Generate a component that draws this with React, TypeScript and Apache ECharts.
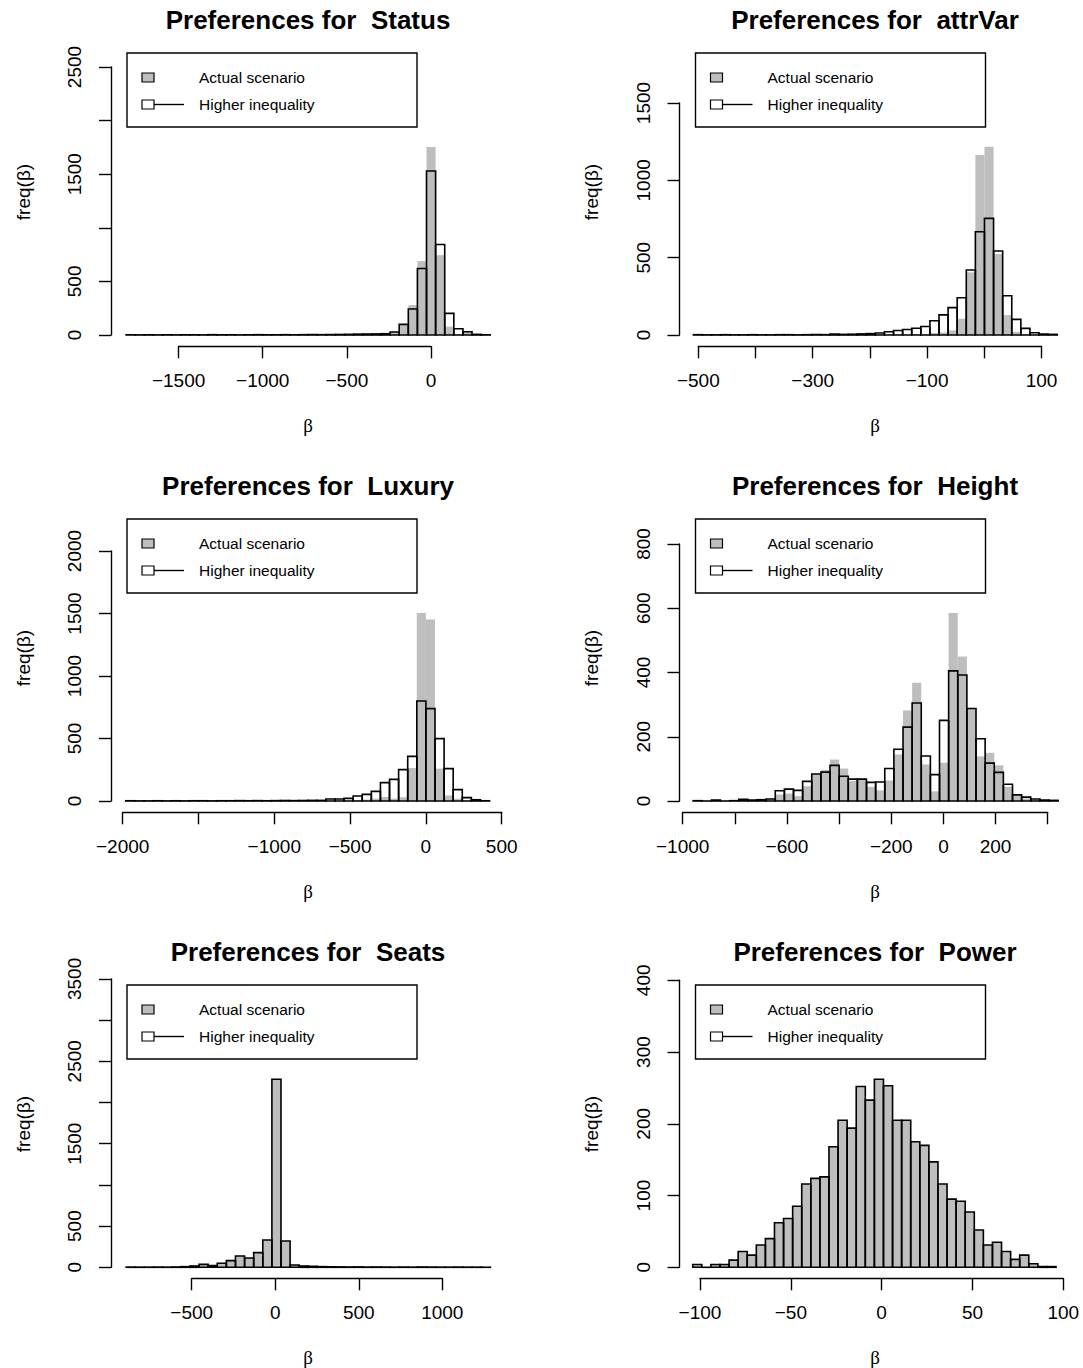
import React, { useEffect, useRef } from "react";
import * as echarts from "echarts";

// ---------- DATA (bin start, bin width, counts per bin) ----------
const statusBinStart = -1812;
const statusBinWidth = 54.1;
const statusActual = [2, 1, 1, 2, 1, 1, 2, 1, 2, 2, 1, 2, 1, 2, 2, 3, 2, 2, 3, 2, 3, 3, 4, 4, 5, 6, 7, 8, 10, 30, 100, 279, 689, 1753, 745, 78, 8, 28, 5, 1];
const statusHigher = [3, 1, 2, 1, 2, 1, 2, 2, 1, 3, 2, 2, 1, 2, 3, 2, 2, 3, 2, 3, 4, 3, 4, 5, 6, 8, 9, 10, 12, 28, 99, 242, 621, 1530, 844, 202, 59, 31, 6, 2];
const statusXTicks = [-1500, -1000, -500, 0];
const statusXLabels = [-1500, -1000, -500, 0];
const statusYTicks = [0, 500, 1000, 1500, 2000, 2500];
const statusYLabels = [0, 500, 1500, 2500];

const attrVarBinStart = -508.5;
const attrVarBinWidth = 15.9;
const attrVarActual = [1, 0, 1, 1, 0, 1, 1, 0, 1, 1, 1, 0, 1, 1, 1, 2, 1, 2, 2, 3, 4, 4, 5, 4, 5, 6, 13, 17, 30, 105, 405, 1163, 1217, 524, 129, 20, 5, 2, 1, 0];
const attrVarHigher = [2, 1, 1, 2, 1, 1, 2, 1, 1, 2, 2, 1, 2, 3, 2, 6, 4, 5, 7, 9, 13, 21, 29, 36, 44, 55, 92, 130, 177, 241, 420, 668, 754, 543, 254, 101, 43, 15, 6, 4];
const attrVarXTicks = [-500, -400, -300, -200, -100, 0, 100];
const attrVarXLabels = [-500, -300, -100, 100];
const attrVarYTicks = [0, 500, 1000, 1500];
const attrVarYLabels = [0, 500, 1000, 1500];

const luxuryBinStart = -1980;
const luxuryBinWidth = 60;
const luxuryActual = [1, 1, 0, 1, 1, 1, 0, 1, 1, 1, 1, 2, 1, 1, 2, 1, 2, 2, 2, 3, 3, 3, 3, 4, 5, 8, 12, 19, 32, 19, 30, 264, 1504, 1453, 259, 45, 19, 8, 4, 1];
const luxuryHigher = [2, 1, 1, 2, 1, 2, 1, 2, 2, 1, 2, 2, 3, 2, 3, 2, 3, 4, 3, 4, 5, 5, 16, 16, 21, 40, 53, 77, 147, 173, 251, 357, 800, 739, 499, 259, 91, 27, 10, 2];
const luxuryXTicks = [-2000, -1500, -1000, -500, 0, 500];
const luxuryXLabels = [-2000, -1000, -500, 0, 500];
const luxuryYTicks = [0, 500, 1000, 1500, 2000];
const luxuryYLabels = [0, 500, 1000, 1500, 2000];

const heightBinStart = -960;
const heightBinWidth = 35;
const heightActual = [0, 0, 2, 0, 1, 4, 2, 3, 5, 20, 23, 15, 46, 84, 97, 129, 101, 62, 68, 44, 33, 64, 145, 282, 368, 114, 30, 119, 585, 450, 288, 139, 150, 111, 44, 17, 8, 4, 2, 1];
const heightHigher = [1, 0, 3, 0, 1, 5, 3, 4, 6, 32, 37, 33, 61, 84, 90, 111, 77, 68, 68, 58, 59, 101, 161, 230, 305, 140, 82, 251, 405, 392, 288, 194, 118, 89, 52, 19, 12, 6, 3, 2];
const heightXTicks = [-1000, -800, -600, -400, -200, 0, 200, 400];
const heightXLabels = [-1000, -600, -200, 0, 200];
const heightYTicks = [0, 200, 400, 600, 800];
const heightYLabels = [0, 200, 400, 600, 800];

const seatsBinStart = -892;
const seatsBinWidth = 54.5;
const seatsCounts = [3, 2, 2, 3, 2, 4, 8, 16, 36, 20, 49, 81, 138, 113, 178, 332, 2283, 320, 28, 16, 12, 8, 6, 5, 4, 5, 3, 4, 3, 2, 3, 2, 4, 3, 2, 2, 3, 2, 2, 1];
const seatsActual = seatsCounts;
const seatsHigher = seatsCounts;
const seatsXTicks = [-500, 0, 500, 1000];
const seatsXLabels = [-500, 0, 500, 1000];
const seatsYTicks = [0, 500, 1000, 1500, 2000, 2500, 3000, 3500];
const seatsYLabels = [0, 500, 1500, 2500, 3500];

const powerBinStart = -104;
const powerBinWidth = 5;
const powerCounts = [4, 0, 4, 4, 10, 22, 17, 31, 40, 62, 68, 85, 116, 124, 126, 168, 205, 194, 252, 233, 262, 253, 205, 205, 175, 170, 147, 116, 95, 92, 77, 52, 31, 35, 22, 11, 17, 5, 1, 1];
const powerActual = powerCounts;
const powerHigher = powerCounts;
const powerXTicks = [-100, -50, 0, 50, 100];
const powerXLabels = [-100, -50, 0, 50, 100];
const powerYTicks = [0, 100, 200, 300, 400];
const powerYLabels = [0, 100, 200, 300, 400];

const legendLabels = ["Actual scenario", "Higher inequality"];

// ---------- LAYOUT ----------
const FONT = '"Liberation Sans", Arial, Helvetica, sans-serif';
const GREY = "#bebebe";
const colPlotLeft = [111, 679.5];
const colCenter = [308, 875];
const rowBase = [0, 466, 932];

const panels = [
  { title: "Status", col: 0, row: 0, binStart: statusBinStart, binWidth: statusBinWidth, actual: statusActual, higher: statusHigher, xTicks: statusXTicks, xLabels: statusXLabels, yTicks: statusYTicks, yLabels: statusYLabels, box: [178.6, 431, 67, 335] },
  { title: "attrVar", col: 1, row: 0, binStart: attrVarBinStart, binWidth: attrVarBinWidth, actual: attrVarActual, higher: attrVarHigher, xTicks: attrVarXTicks, xLabels: attrVarXLabels, yTicks: attrVarYTicks, yLabels: attrVarYLabels, box: [698.3, 1041.5, 103, 335] },
  { title: "Luxury", col: 0, row: 1, binStart: luxuryBinStart, binWidth: luxuryBinWidth, actual: luxuryActual, higher: luxuryHigher, xTicks: luxuryXTicks, xLabels: luxuryXLabels, yTicks: luxuryYTicks, yLabels: luxuryYLabels, box: [122.7, 501.7, 551, 801] },
  { title: "Height", col: 1, row: 1, binStart: heightBinStart, binWidth: heightBinWidth, actual: heightActual, higher: heightHigher, xTicks: heightXTicks, xLabels: heightXLabels, yTicks: heightYTicks, yLabels: heightYLabels, box: [682.7, 1047.7, 544, 801] },
  { title: "Seats", col: 0, row: 2, binStart: seatsBinStart, binWidth: seatsBinWidth, actual: seatsActual, higher: seatsHigher, xTicks: seatsXTicks, xLabels: seatsXLabels, yTicks: seatsYTicks, yLabels: seatsYLabels, box: [191.7, 442.3, 978.9, 1267.3] },
  { title: "Power", col: 1, row: 2, binStart: powerBinStart, binWidth: powerBinWidth, actual: powerActual, higher: powerHigher, xTicks: powerXTicks, xLabels: powerXLabels, yTicks: powerYTicks, yLabels: powerYLabels, box: [700, 1063.3, 980.3, 1267.3] },
];

const fmt = (v: number) => (v < 0 ? "\u2212" + Math.abs(v) : String(v));

function makeRender(kind: "grey" | "outline") {
  return (params: any, api: any) => {
    const x0 = api.value(0);
    const x1 = api.value(1);
    const c = api.value(2);
    const p0 = api.coord([x0, 0]);
    const p1 = api.coord([x1, c]);
    const x = p0[0];
    const w = p1[0] - p0[0];
    const y = p1[1];
    const h = p0[1] - p1[1];
    if (kind === "grey") {
      if (c <= 0) return { type: "group", children: [] };
      return { type: "rect", shape: { x, y, width: w, height: h }, style: { fill: GREY } };
    }
    if (c <= 0) {
      return { type: "line", shape: { x1: x, y1: p0[1], x2: x + w, y2: p0[1] }, style: { stroke: "#000", lineWidth: 1.6 } };
    }
    return { type: "rect", shape: { x, y, width: w, height: h }, style: { fill: "none", stroke: "#000", lineWidth: 1.6 } };
  };
}

function buildOption() {
  const grid: any[] = [];
  const xAxis: any[] = [];
  const yAxis: any[] = [];
  const series: any[] = [];
  const graphic: any[] = [];

  panels.forEach((p, i) => {
    const [gl, gr, gt, gb] = p.box;
    const plotLeft = colPlotLeft[p.col];
    const base = rowBase[p.row];
    const axisLineY = base + 346.3;
    grid.push({ left: gl, width: gr - gl, top: gt, height: gb - gt, containLabel: false });
    const xStep = p.xTicks[1] - p.xTicks[0];
    const yStep = p.yTicks[1] - p.yTicks[0];
    xAxis.push({
      type: "value",
      gridIndex: i,
      min: p.xTicks[0],
      max: p.xTicks[p.xTicks.length - 1],
      interval: xStep,
      position: "bottom",
      offset: axisLineY - gb,
      splitLine: { show: false },
      axisLine: { show: true, onZero: false, lineStyle: { color: "#000", width: 1.4 } },
      axisTick: { show: true, length: 12, inside: false, lineStyle: { color: "#000", width: 1.4 } },
      axisLabel: {
        show: true,
        margin: 25,
        color: "#000",
        fontSize: 19,
        fontFamily: FONT,
        showMinLabel: true,
        showMaxLabel: true,
        formatter: (v: number) => (p.xLabels.indexOf(v) >= 0 ? fmt(v) : ""),
      },
    });
    yAxis.push({
      type: "value",
      gridIndex: i,
      min: 0,
      max: p.yTicks[p.yTicks.length - 1],
      interval: yStep,
      position: "left",
      offset: gl - plotLeft,
      splitLine: { show: false },
      axisLine: { show: true, onZero: false, lineStyle: { color: "#000", width: 1.4 } },
      axisTick: { show: true, length: 12, inside: false, lineStyle: { color: "#000", width: 1.4 } },
      axisLabel: {
        show: true,
        rotate: 90,
        margin: 27,
        color: "#000",
        fontSize: 19,
        fontFamily: FONT,
        showMinLabel: true,
        showMaxLabel: true,
        formatter: (v: number) => (p.yLabels.indexOf(v) >= 0 ? fmt(v) : ""),
      },
    });
    const toData = (arr: number[]) => arr.map((c, k) => [p.binStart + k * p.binWidth, p.binStart + (k + 1) * p.binWidth, c]);
    series.push({
      type: "custom",
      name: legendLabels[0],
      xAxisIndex: i,
      yAxisIndex: i,
      clip: false,
      silent: true,
      dimensions: ["x0", "x1", "count"],
      encode: { x: [0, 1], y: 2 },
      renderItem: makeRender("grey"),
      data: toData(p.actual),
      z: 2,
    });
    series.push({
      type: "custom",
      name: legendLabels[1],
      xAxisIndex: i,
      yAxisIndex: i,
      clip: false,
      silent: true,
      dimensions: ["x0", "x1", "count"],
      encode: { x: [0, 1], y: 2 },
      renderItem: makeRender("outline"),
      data: toData(p.higher),
      z: 3,
    });

    // Title
    graphic.push({
      type: "text",
      x: colCenter[p.col],
      y: base + 20,
      style: { text: "Preferences for  " + p.title, font: "bold 26px " + FONT, fill: "#000", align: "center", verticalAlign: "middle" },
    });
    // Axis titles
    graphic.push({
      type: "text",
      x: colCenter[p.col],
      y: base + 425,
      style: { text: "\u03b2", font: '19px "Liberation Serif", "DejaVu Serif", serif', fill: "#000", align: "center", verticalAlign: "middle" },
    });
    graphic.push({
      type: "text",
      x: plotLeft - 88,
      y: base + 192,
      rotation: Math.PI / 2,
      style: { text: "freq(\u03b2)", font: "19px " + FONT, fill: "#000", align: "center", verticalAlign: "middle" },
    });
    // Legend
    const lx = plotLeft + 16;
    const ly = base + 53;
    graphic.push({
      type: "rect",
      shape: { x: lx, y: ly, width: 290, height: 74 },
      style: { fill: "none", stroke: "#000", lineWidth: 1.4 },
    });
    graphic.push({
      type: "rect",
      shape: { x: lx + 15, y: ly + 20, width: 12, height: 9 },
      style: { fill: GREY, stroke: "#000", lineWidth: 1.2 },
    });
    graphic.push({
      type: "rect",
      shape: { x: lx + 15, y: ly + 47, width: 12, height: 9 },
      style: { fill: "#fff", stroke: "#000", lineWidth: 1.2 },
    });
    graphic.push({
      type: "line",
      shape: { x1: lx + 27, y1: ly + 51.5, x2: lx + 57, y2: ly + 51.5 },
      style: { stroke: "#000", lineWidth: 1.4 },
    });
    graphic.push({
      type: "text",
      x: lx + 72,
      y: ly + 24.5,
      style: { text: legendLabels[0], font: "15.5px " + FONT, fill: "#000", align: "left", verticalAlign: "middle" },
    });
    graphic.push({
      type: "text",
      x: lx + 72,
      y: ly + 51.5,
      style: { text: legendLabels[1], font: "15.5px " + FONT, fill: "#000", align: "left", verticalAlign: "middle" },
    });
  });

  return {
    animation: false,
    backgroundColor: "#fff",
    textStyle: { fontFamily: FONT },
    grid,
    xAxis,
    yAxis,
    series,
    graphic,
  };
}

export default function App() {
  const ref = useRef<HTMLDivElement>(null);
  useEffect(() => {
    if (!ref.current) return;
    const chart = echarts.init(ref.current, undefined, { renderer: "svg" });
    chart.setOption(buildOption() as any);
    return () => chart.dispose();
  }, []);
  return <div ref={ref} style={{ position: "absolute", left: 0, top: 0, width: 1083, height: 1368, background: "#fff" }} />;
}
